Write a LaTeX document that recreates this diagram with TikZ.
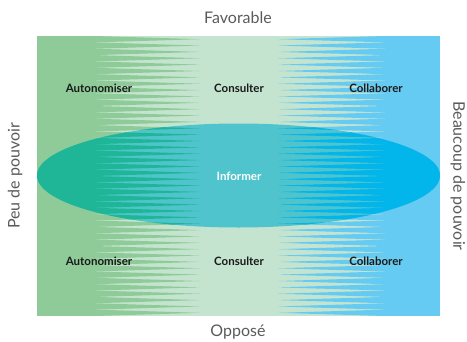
\documentclass[tikz,border=0pt]{standalone}
\usepackage{fontspec}
\setmainfont{Lato}
\definecolor{gL}{HTML}{8ECB98}
\definecolor{gC}{HTML}{C5E4CF}
\definecolor{bR}{HTML}{66CBF2}
\definecolor{eL}{HTML}{1FB597}
\definecolor{eC}{HTML}{50C4CC}
\definecolor{eR}{HTML}{02B6EC}
\definecolor{ttlgray}{HTML}{5A5A5A}
\definecolor{labblack}{HTML}{1A1A1A}
\begin{document}
\begin{tikzpicture}[x=1pt,y=-1pt,
  lab/.style={font=\fontsize{11.5}{13}\selectfont\bfseries, text=labblack, inner sep=0pt},
  inlab/.style={font=\fontsize{11.5}{13}\selectfont\bfseries, text=white, inner sep=0pt},
  ttl/.style={font=\fontsize{16}{18}\selectfont, text=ttlgray, inner sep=0pt}]
\useasboundingbox (0,0) rectangle (467,341);
\def\p{6.3636}
% background panel
\fill[gC] (37,36) rectangle (440,316);
\fill[gL] (37,36) rectangle (95.5,316);
\fill[bR] (384.5,36) rectangle (440,316);
\foreach \i in {0,...,43}{
  \pgfmathsetmacro\ya{36+\i*\p}
  \fill[gL] (95,\ya) -- (200,\ya+\p/2) -- (95,\ya+\p) -- cycle;
  \fill[bR] (385,\ya) -- (278,\ya+\p/2) -- (385,\ya+\p) -- cycle;
}
% ellipse
\begin{scope}
  \clip (238.5,175.5) ellipse [x radius=201.5, y radius=52];
  \fill[eC] (37,120) rectangle (440,232);
  \fill[eL] (37,120) rectangle (95.5,232);
  \fill[eR] (384.5,120) rectangle (440,232);
  \foreach \i in {0,...,43}{
    \pgfmathsetmacro\ya{36+\i*\p}
    \fill[eL] (95,\ya) -- (200,\ya+\p/2) -- (95,\ya+\p) -- cycle;
    \fill[eR] (385,\ya) -- (278,\ya+\p/2) -- (385,\ya+\p) -- cycle;
  }
\end{scope}
% labels
\node[lab] (a1) at (99,88) {Autonomiser};
\node[lab] (c1) at (239,88) {Consulter};
\node[lab] (k1) at (376,88) {Collaborer};
\node[lab] (a2) at (99,261) {Autonomiser};
\node[lab] (c2) at (239,261) {Consulter};
\node[lab] (k2) at (376,261) {Collaborer};
\node[inlab] (inf) at (239,176) {Informer};
% axis titles
\node[ttl] (fav) at (238,18) {Favorable};
\node[ttl] (opp) at (238,332) {Opposé};
\node[ttl,rotate=90] (peu) at (15,176) {Peu de pouvoir};
\node[ttl,rotate=-90] (beau) at (458,176) {Beaucoup de pouvoir};
\end{tikzpicture}
\end{document}
